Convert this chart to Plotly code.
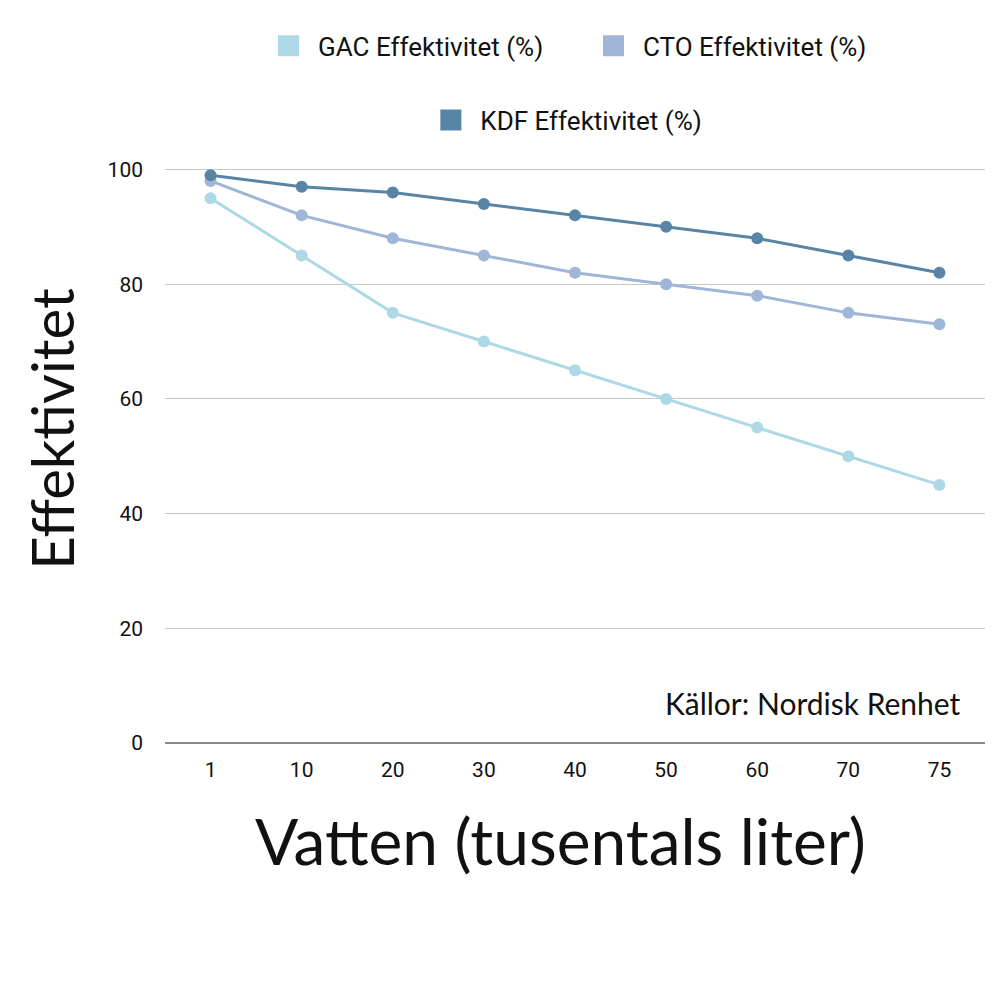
import plotly.graph_objects as go

categories = ["1", "10", "20", "30", "40", "50", "60", "70", "75"]
gac = [95, 85, 75, 70, 65, 60, 55, 50, 45]
cto = [98, 92, 88, 85, 82, 80, 78, 75, 73]
kdf = [99, 97, 96, 94, 92, 90, 88, 85, 82]

series = [
    ("GAC Effektivitet (%)", gac, "#ADD8E6", "legend"),
    ("CTO Effektivitet (%)", cto, "#A0B6D8", "legend"),
    ("KDF Effektivitet (%)", kdf, "#5884A6", "legend2"),
]

fig = go.Figure()
for name, vals, color, lg in series:
    fig.add_trace(go.Scatter(
        x=categories, y=vals, mode="lines+markers", name=name,
        line=dict(color=color, width=3),
        marker=dict(color=color, size=12),
        showlegend=False, cliponaxis=False,
    ))
for name, vals, color, lg in series:
    fig.add_trace(go.Scatter(
        x=[None], y=[None], mode="markers", name=name, legend=lg,
        marker=dict(color=color, symbol="square", size=16,
                    line=dict(color=color, width=5)),
        showlegend=True,
    ))

fig.update_layout(
    width=1000, height=1000,
    margin=dict(l=157, r=23, t=107, b=265),
    paper_bgcolor="white", plot_bgcolor="white",
    font=dict(family="Roboto", color="#111"),
    legend=dict(orientation="h", x=0.511, xanchor="center", y=1.11, yanchor="middle",
                font=dict(size=26, family="Roboto"), entrywidth=261, itemwidth=49),
    legend2=dict(orientation="h", x=0.487, xanchor="center", y=0.992, yanchor="middle",
                 font=dict(size=26, family="Roboto"), itemwidth=49),
    xaxis=dict(type="category", range=[-0.5, 8.5], showgrid=False, ticks="",
               tickfont=dict(size=21), showline=False, zeroline=False, automargin=False,
               ticklabelstandoff=12),
    yaxis=dict(range=[0, 109.5], tickvals=[0, 20, 40, 60, 80, 100], showgrid=True,
               gridcolor="#C8C8C8", gridwidth=1, zeroline=True, zerolinecolor="#888888",
               zerolinewidth=2, tickfont=dict(size=21), ticks="", showline=False,
               automargin=False, ticklabelstandoff=21,
               title=dict(text="Effektivitet", font=dict(size=58, family="Lato"), standoff=14)),
    annotations=[
        dict(text="Källor: Nordisk Renhet", xref="paper", yref="paper",
             x=0.973, y=0.064, xanchor="right", yanchor="middle", showarrow=False,
             font=dict(size=30, family="Lato", color="#111")),
        dict(text="Vatten (tusentals liter)", xref="paper", yref="paper",
             x=0.482, y=-0.155, xanchor="center", yanchor="middle", showarrow=False,
             font=dict(size=64, family="Lato", color="#111")),
    ],
)

fig.write_html("out.html")
